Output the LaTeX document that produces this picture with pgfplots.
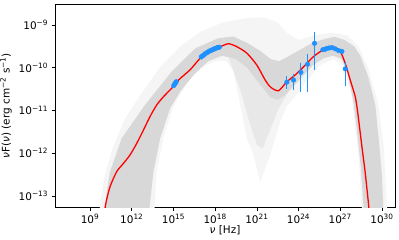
\documentclass[border=0pt]{standalone}
\usepackage{fontspec}
\setmainfont{DejaVu Sans}
\usepackage{pgfplots}
\pgfplotsset{compat=1.18}
\definecolor{dense}{RGB}{216,216,216}
\definecolor{midg}{RGB}{232,232,232}
\definecolor{faint}{RGB}{245,245,245}
\definecolor{ptblue}{RGB}{30,144,255}
\begin{document}
\begin{tikzpicture}
\begin{axis}[name=ax, scale only axis, width=340bp, height=202.5bp,
 xmode=log, ymode=log, log basis x=10, log basis y=10,
 xmin=3e6, xmax=8.7e30, ymin=5.5e-14, ymax=3.0e-9,
 xtick={1e9,1e12,1e15,1e18,1e21,1e24,1e27,1e30},
 ytick={1e-13,1e-12,1e-11,1e-10,1e-9},
 minor xtick={}, minor ytick={},
 tick align=outside, tick pos=left, major tick length=3.5bp,
 every tick/.style={black, line width=0.7bp},
 axis line style={line width=0.8bp, black},
 xticklabel={10\textsuperscript{\pgfmathparse{int(round(\tick))}\pgfmathresult}},
 yticklabel={10\textsuperscript{−\pgfmathparse{int(round(abs(\tick)))}\pgfmathresult}},
 ticklabel style={font=\fontsize{10.5}{12}\selectfont},
 label style={font=\fontsize{10.5}{12}\selectfont},
 xlabel={{\itshape ν} [Hz]},
 ylabel={{\itshape ν}F({\itshape ν}) (erg cm\textsuperscript{−2} s\textsuperscript{−1})},
 xlabel style={yshift=4.5bp},
]
% faint spread of sample curves
\addplot[fill=faint, draw=none] coordinates {
(3.981e9,3.162e-14) (1e10,2.512e-13) (3.981e10,1.259e-12) (3.162e11,6.310e-12)
(3.162e12,1.995e-11) (1e14,1e-10) (3.162e15,3.162e-10) (1e17,7.079e-10)
(3.162e18,1.122e-9) (1e20,1.413e-9) (3.162e21,1.514e-9) (3.162e22,1.122e-9)
(1.585e23,6.310e-10) (1e24,4.467e-10) (3.162e25,6.026e-10) (3.162e26,6.607e-10)
(3.162e27,5.623e-10) (1.995e28,3.162e-10) (1e29,1e-10) (5.012e29,1.585e-11)
(1.413e30,1.259e-12) (2.512e30,3.162e-14)
(3.981e28,3.162e-14) (1.995e28,1e-12) (6.310e27,2.512e-11) (1.585e27,1.122e-10)
(3.162e26,1.585e-10) (3.162e25,1.122e-10) (3.162e24,4.467e-11) (5.012e23,1.995e-11)
(1.445e23,1.259e-11) (4.786e22,5.495e-12) (9.120e21,9.120e-13) (1.738e21,2.138e-13)
(5.754e20,9.120e-13) (1.905e20,2.239e-12) (6.310e19,1.349e-11) (2.089e19,8.128e-11)
(6.310e18,1.413e-10) (1e18,1.413e-10) (1e17,1e-10) (1e16,4.467e-11)
(1e15,1.259e-11) (1.995e14,2.512e-12) (6.310e13,3.981e-13) (3.981e13,3.162e-14)
} -- cycle;
% denser part of the lobe between the humps
\addplot[fill=midg, draw=none] coordinates {
(1e19,1.585e-10) (6.310e19,3.162e-11) (2.512e20,6.310e-12) (1e21,1.585e-12)
(2.512e21,1.259e-12) (7.943e21,3.162e-12) (3.162e22,1e-11) (1.585e23,2.512e-11)
(1.585e23,1e-10) (1e21,1e-10) (1e19,2.512e-10)
} -- cycle;
% dense core of sample curves
\addplot[fill=dense, draw=none] coordinates {
(1e10,3.162e-14) (1.585e10,1.259e-13) (2.754e10,3.715e-13) (1.905e11,2.239e-12)
(9.120e12,1.349e-11) (7.586e14,8.128e-11) (3.631e16,2.818e-10) (1.738e18,4.898e-10)
(1.995e19,5.370e-10) (1.995e20,3.802e-10) (1.585e21,2.512e-10) (1e22,1.585e-10)
(3.981e22,1.413e-10) (1.585e23,1.778e-10) (1e24,2.512e-10) (1e25,3.802e-10)
(1e26,4.786e-10) (3.981e26,5.248e-10) (1.995e27,4.467e-10) (1e28,3.162e-10)
(2.754e28,1.905e-10) (1e29,6.310e-11) (3.311e29,1.349e-11) (5.754e29,2.239e-12)
(1e30,3.162e-13) (1.318e30,3.162e-14)
(5.248e28,3.162e-14) (3.162e28,3.981e-13) (1.778e28,2.512e-12) (8.913e27,1.585e-11)
(3.162e27,7.943e-11) (1.259e27,1.585e-10) (3.162e26,1.905e-10) (6.310e25,1.660e-10)
(1e25,1.122e-10) (1.995e24,6.310e-11) (3.981e23,3.548e-11) (1e23,2.239e-11)
(3.162e22,1.778e-11) (1e22,1.995e-11) (3.162e21,3.162e-11) (1e21,5.012e-11)
(1.995e20,1e-10) (3.162e19,1.585e-10) (3.162e18,1.905e-10) (3.162e17,1.413e-10)
(3.162e16,7.079e-11) (3.162e15,2.818e-11) (5.754e14,1.122e-11) (1.096e14,2.239e-12)
(3.631e13,3.715e-13) (1.585e13,3.162e-14)
} -- cycle;
% best-fit model
\addplot[red, line width=1.3bp, smooth, tension=0.4] coordinates {
(1e10,3.548e-14) (1.413e10,7.079e-14) (2.754e10,1.660e-13) (8.318e10,3.715e-13)
(2.512e11,5.754e-13) (7.586e11,9.120e-13) (2.291e12,1.698e-12) (6.918e12,3.467e-12)
(2.089e13,7.244e-12) (6.310e13,1.349e-11) (1.905e14,2.089e-11) (7.586e14,3.311e-11)
(1.318e15,4.266e-11) (3.981e15,6.026e-11) (1.585e16,8.913e-11) (5.012e16,1.380e-10)
(1.445e17,1.995e-10) (6.310e17,2.630e-10) (2.291e18,3.090e-10) (9.120e18,3.631e-10)
(3.631e19,3.090e-10) (1.905e20,2.188e-10) (1e21,1.148e-10) (3.981e21,5.129e-11)
(1e22,3.467e-11) (3.631e22,2.884e-11) (1.445e23,4.677e-11) (5.754e23,6.761e-11)
(2.291e24,1.047e-10) (1.202e25,1.820e-10) (6.310e25,2.630e-10) (3.311e26,3.020e-10)
(1e27,2.399e-10) (2.291e27,1.259e-10) (5.248e27,5.129e-11) (1.202e28,2.089e-11)
(1.778e28,9.333e-12) (3.631e28,1.413e-12) (6.310e28,3.388e-13) (1.096e29,6.166e-14)
(1.259e29,3.548e-14)
};
% error bars
\addplot[ptblue, line width=1.1bp] coordinates {(1.445e23,3.236e-11) (1.445e23,6.310e-11)};
\addplot[ptblue, line width=1.1bp] coordinates {(4.365e23,3.020e-11) (4.365e23,7.079e-11)};
\addplot[ptblue, line width=1.1bp] coordinates {(1.479e24,2.754e-11) (1.479e24,1.259e-10)};
\addplot[ptblue, line width=1.1bp] coordinates {(4.467e24,2.754e-11) (4.467e24,2.042e-10)};
\addplot[ptblue, line width=1.1bp] coordinates {(1.413e25,8.913e-11) (1.413e25,6.918e-10)};
\addplot[ptblue, line width=1.1bp] coordinates {(2.291e27,3.631e-11) (2.291e27,1.380e-10)};
% data points
\addplot[only marks, mark=*, mark size=2.3bp, mark options={draw=ptblue, fill=ptblue}] coordinates {
(1.047e15,3.802e-11) (1.202e15,4.074e-11) (1.380e15,4.365e-11) (1.585e15,4.677e-11)
(1e17,1.778e-10) (1.259e17,1.905e-10) (1.585e17,1.995e-10) (1.995e17,2.138e-10)
(2.512e17,2.239e-10) (3.162e17,2.344e-10) (3.981e17,2.455e-10) (5.012e17,2.512e-10)
(6.310e17,2.630e-10) (7.943e17,2.692e-10) (1e18,2.818e-10) (1.259e18,2.884e-10)
(1.585e18,2.951e-10) (1.995e18,3.020e-10)
(1.445e23,4.571e-11) (4.365e23,5.129e-11) (1.479e24,7.762e-11) (4.467e24,1.202e-10)
(1.413e25,3.715e-10)
(5.623e25,2.630e-10) (7.943e25,2.692e-10) (1.096e26,2.818e-10) (1.585e26,2.884e-10)
(2.512e26,2.951e-10) (4.365e26,2.754e-10) (7.586e26,2.512e-10) (1.318e27,2.399e-10)
(2.291e27,9.333e-11)
};
\end{axis}
\path (ax.south west) ++(-55bp,-33bp) coordinate (bl);
\path (ax.north east) ++(4bp,4.5bp) coordinate (tr);
\pgfresetboundingbox
\useasboundingbox (bl) rectangle (tr);
\end{tikzpicture}
\end{document}
